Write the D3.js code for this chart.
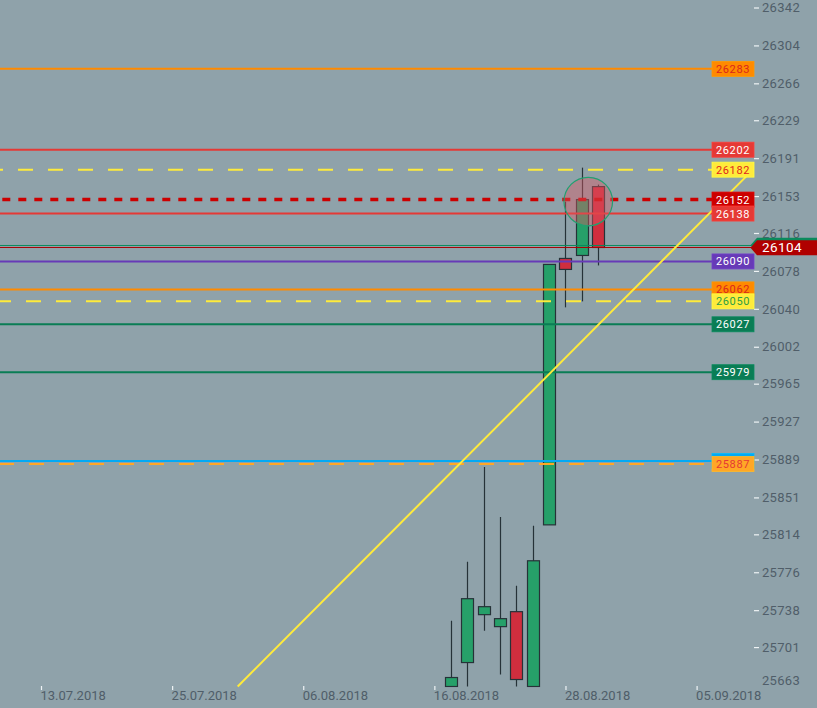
<!DOCTYPE html>
<html><head><meta charset="utf-8">
<script src="https://cdn.jsdelivr.net/npm/d3@7"></script>
<style>html,body{margin:0;padding:0;background:#8fa2aa;overflow:hidden}svg{display:block}</style>
</head><body>
<svg id="c" width="817" height="708"></svg>
<script>
// ---- data ----
const dateLabels = ['13.07.2018','25.07.2018','06.08.2018','16.08.2018','28.08.2018','05.09.2018'];
const dateIndex  = [0, 8, 16, 24, 32, 40];
const candleIndex = [25, 26, 27, 28, 29, 30, 31, 32, 33, 34];
const opens  = [25664, 25688, 25736, 25724, 25739, 25664, 25826, 26093, 26096, 26165];
const highs  = [25730, 25789, 25884, 25834, 25765, 25825, 26087, 26150, 26184, 26167];
const lows   = [25664, 25664, 25720, 25676, 25664, 25664, 25826, 26044, 26050, 26086];
const closes = [25673, 25752, 25744, 25732, 25671, 25790, 26087, 26082, 26152, 26104];
const priceTicks = [26342,26304,26266,26229,26191,26153,26116,26078,26040,26002,25965,25927,25889,25851,25814,25776,25738,25701,25663];
const levelValues = [26283, 26202, 26182, 26152, 26138, 26090, 26062, 26050, 26027, 25979, 25890, 25887];
const currentPrice = 26104;
const secondPrice = 26106;
const trendIndex = [12, 43.44];
const trendPrice = [25664, 26182];
const markerIndex = 33.39, markerPrice = 26150;

// ---- styles ----
const levelStyles = [
  {c:'#ff8a00', t:'#d9261c', w:2},
  {c:'#e53935', t:'#ffffff', w:2},
  {c:'#ffeb3b', t:'#e0261c', w:2, dash:'15,15', off:12},
  {c:'#cc0000', t:'#ffffff', w:3.5, dash:'8,8', off:13.7},
  {c:'#e53935', t:'#ffffff', w:2},
  {c:'#673ab7', t:'#ffffff', w:2},
  {c:'#ff8a00', t:'#d9261c', w:2},
  {c:'#ffeb3b', t:'#2e9e44', w:2, dash:'15,15', off:4},
  {c:'#0a7d55', t:'#ffffff', w:2},
  {c:'#0a7d55', t:'#ffffff', w:2},
  {c:'#03a9f4', t:'#e0261c', w:2},
  {c:'#ffa726', t:'#e53935', w:2, dash:'15,15', off:1}
];
const FONT = 'Roboto, "Noto Sans", sans-serif';
const axisText = '#505e69';

const svg = d3.select('#c');
const x = d3.scaleLinear().domain([0, 40]).range([41, 696.6]);
const y = d3.scaleLinear().domain([25663, 26342]).range([687.5, 10]);

svg.append('rect').attr('width', 817).attr('height', 708).attr('fill', '#8fa2aa');

svg.append('defs').append('clipPath').attr('id', 'plot')
  .append('rect').attr('x', 0).attr('y', 0).attr('width', 712).attr('height', 687.5);

// ---- price axis ----
const yAxis = d3.axisRight(y).tickValues(priceTicks).tickSize(5).tickPadding(3).tickFormat(d3.format('d'));
const ga = svg.append('g').attr('transform', 'translate(754,-2.5)').call(yAxis);
ga.select('.domain').remove();
ga.selectAll('.tick line').attr('stroke', '#eef3f5').attr('stroke-width', 1.2);
ga.selectAll('.tick text').attr('fill', axisText).attr('font-family', FONT).attr('font-size', 13).attr('letter-spacing', 0.3);
ga.selectAll('.tick').filter(d => d === 25663).each(function(){
  d3.select(this).select('line').remove();
  d3.select(this).select('text').attr('dy', '-0.05em');
});

// ---- date axis ----
const xAxis = d3.axisBottom(x).tickValues(dateIndex).tickSize(4).tickPadding(1)
  .tickFormat((d, i) => dateLabels[i]);
const gx = svg.append('g').attr('transform', 'translate(0,686)').call(xAxis);
gx.select('.domain').remove();
gx.selectAll('.tick line').attr('stroke', '#eef3f5').attr('stroke-width', 1.2);
gx.selectAll('.tick text').attr('fill', axisText).attr('font-family', FONT).attr('font-size', 13)
  .attr('text-anchor', 'start').attr('dx', -1).attr('y', 13.5).attr('dy', 0);

// ---- candles ----
const candles = candleIndex.map((ix, i) => ({ix, o: opens[i], h: highs[i], l: lows[i], c: closes[i]}));
const gc = svg.append('g').attr('clip-path', 'url(#plot)');
gc.selectAll('line.wick').data(candles).join('line')
  .attr('x1', d => Math.round(x(d.ix)) + 0.5).attr('x2', d => Math.round(x(d.ix)) + 0.5)
  .attr('y1', d => y(d.h)).attr('y2', d => y(d.l))
  .attr('stroke', '#263238').attr('stroke-width', 1.2);
gc.selectAll('rect.body').data(candles).join('rect')
  .attr('x', d => Math.round(x(d.ix)) - 5.5).attr('width', 12)
  .attr('y', d => y(Math.max(d.o, d.c))).attr('height', d => Math.max(1, Math.abs(y(d.o) - y(d.c))))
  .attr('fill', d => d.c >= d.o ? '#26a069' : '#d02e3e')
  .attr('stroke', '#263238').attr('stroke-width', 1.2);

// ---- level lines ----
const levels = levelValues.map((v, i) => Object.assign({v}, levelStyles[i]));
svg.append('g').selectAll('line').data(levels).join('line')
  .attr('x1', 0).attr('x2', 712)
  .attr('y1', d => y(d.v)).attr('y2', d => y(d.v))
  .attr('stroke', d => d.c).attr('stroke-width', d => d.w)
  .attr('stroke-dasharray', d => d.dash || null)
  .attr('stroke-dashoffset', d => d.off || 0);

// current price lines
svg.append('line').attr('x1', 0).attr('x2', 752).attr('y1', y(secondPrice)).attr('y2', y(secondPrice))
  .attr('stroke', '#0b8a5c').attr('stroke-width', 1);
svg.append('line').attr('x1', 0).attr('x2', 752).attr('y1', y(currentPrice)).attr('y2', y(currentPrice))
  .attr('stroke', '#a80000').attr('stroke-width', 1);

// ---- trend line ----
svg.append('line')
  .attr('x1', x(trendIndex[0])).attr('y1', y(trendPrice[0]))
  .attr('x2', x(trendIndex[1])).attr('y2', y(trendPrice[1]))
  .attr('stroke', '#ffeb3b').attr('stroke-width', 2);

// ---- marker circle ----
svg.append('circle').attr('cx', x(markerIndex)).attr('cy', y(markerPrice)).attr('r', 24.3)
  .attr('fill', 'rgba(222,88,100,0.42)').attr('stroke', '#22a070').attr('stroke-width', 1.2);

// ---- level tags ----
const gt = svg.append('g').selectAll('g').data(levels).join('g')
  .attr('transform', d => `translate(712,${y(d.v)})`);
gt.append('rect').attr('x', 0).attr('y', -7.5).attr('width', 42).attr('height', 15)
  .attr('fill', d => d.c).attr('stroke', d => d3.color(d.c).brighter(0.3)).attr('stroke-width', 0.8);
gt.append('text').attr('x', 21).attr('y', 0).attr('dy', '0.36em').attr('text-anchor', 'middle')
  .attr('font-family', FONT).attr('font-size', 11).attr('letter-spacing', 0.6)
  .attr('fill', d => d.t).text(d => d3.format('d')(d.v));

// ---- current price tags ----
function tagPath(cy){
  return `M750.5,${cy} L757,${cy-7.5} L817,${cy-7.5} L817,${cy+7.5} L757,${cy+7.5} Z`;
}
svg.append('path').attr('d', tagPath(y(secondPrice) - 0.3)).attr('fill', '#0b8a5c');
svg.append('path').attr('d', tagPath(y(currentPrice) + 0.3)).attr('fill', '#b00000');
svg.append('text').attr('x', 762).attr('y', y(currentPrice)).attr('dy', '0.37em')
  .attr('font-family', FONT).attr('font-size', 13.5).attr('letter-spacing', 0.4)
  .attr('fill', '#ffffff').text(d3.format('d')(currentPrice));
</script></body></html>
